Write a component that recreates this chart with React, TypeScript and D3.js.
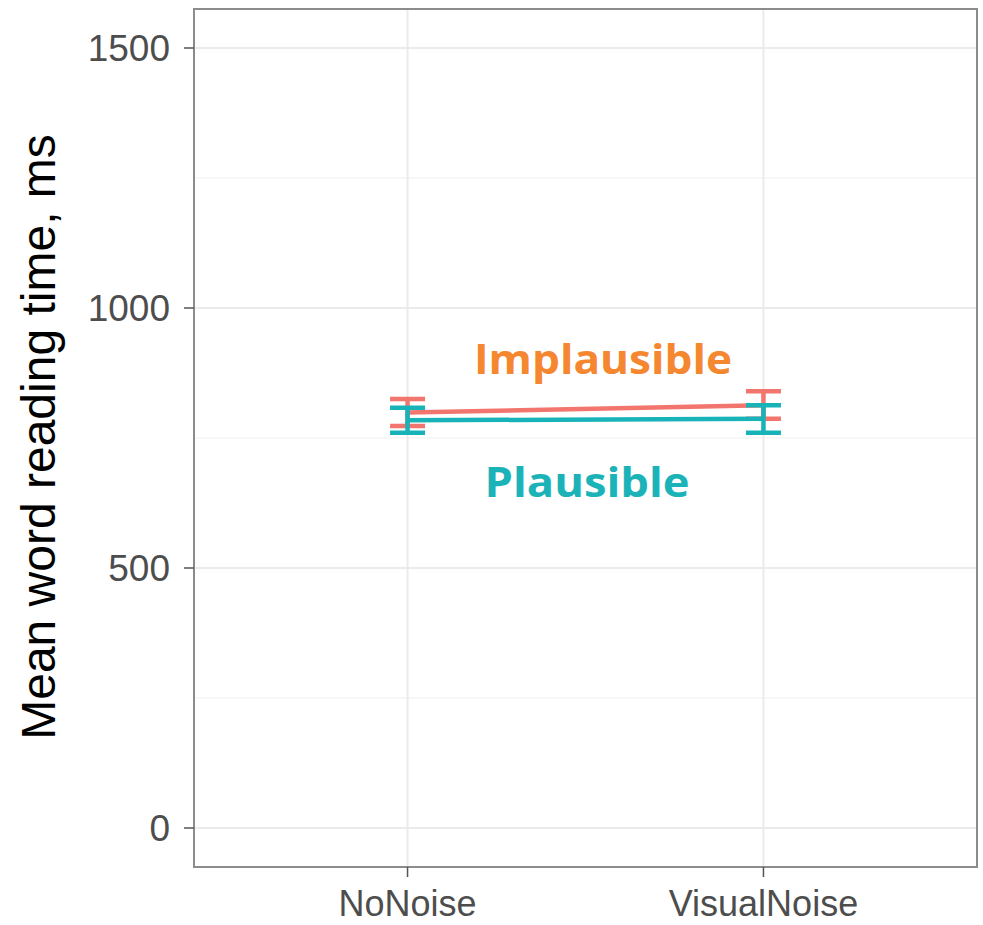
import React from "react";
import { scaleLinear, scalePoint, line } from "d3";

const conditions = ["NoNoise", "VisualNoise"];

const implausibleMean = [799, 813];
const implausibleLow = [773, 787];
const implausibleHigh = [825, 840];

const plausibleMean = [784, 787];
const plausibleLow = [760, 760];
const plausibleHigh = [808, 813];

const majorTicks = [0, 500, 1000, 1500];
const minorTicks = [250, 750, 1250];

const W = 983;
const H = 925;
const panel = { left: 194, right: 977, top: 9, bottom: 867 };

const red = "#F2766D";
const teal = "#17B3B8";

const x = scalePoint<string>()
  .domain(conditions)
  .range([panel.left, panel.right])
  .padding(0.6);

const y = scaleLinear().domain([-75, 1575]).range([panel.bottom, panel.top]);

const capHalf = 17.5;

function Series({ mean, low, high, color }: { mean: number[]; low: number[]; high: number[]; color: string }) {
  const path = line<number>()
    .x((_, i) => x(conditions[i]) as number)
    .y((d) => y(d));
  return (
    <g stroke={color} strokeWidth={4.5} fill="none">
      <path d={path(mean) || ""} />
      {conditions.map((c, i) => {
        const cx = x(c) as number;
        return (
          <g key={c}>
            <line x1={cx} x2={cx} y1={y(low[i])} y2={y(high[i])} />
            <line x1={cx - capHalf} x2={cx + capHalf} y1={y(low[i])} y2={y(low[i])} />
            <line x1={cx - capHalf} x2={cx + capHalf} y1={y(high[i])} y2={y(high[i])} />
          </g>
        );
      })}
    </g>
  );
}

export default function App() {
  return (
    <svg
      width={W}
      height={H}
      style={{ position: "absolute", left: 0, top: 0, background: "#fff" }}
      fontFamily="'Liberation Sans', Arial, sans-serif"
    >
      <rect x={0} y={0} width={W} height={H} fill="#fff" />
      {/* grid */}
      {minorTicks.map((t) => (
        <line key={"mi" + t} x1={panel.left} x2={panel.right} y1={y(t)} y2={y(t)} stroke="#F4F4F4" strokeWidth={1.5} />
      ))}
      {majorTicks.map((t) => (
        <line key={"ma" + t} x1={panel.left} x2={panel.right} y1={y(t)} y2={y(t)} stroke="#EBEBEB" strokeWidth={2} />
      ))}
      {conditions.map((c) => (
        <line key={"gx" + c} x1={x(c)} x2={x(c)} y1={panel.top} y2={panel.bottom} stroke="#EBEBEB" strokeWidth={2} />
      ))}

      <Series mean={implausibleMean} low={implausibleLow} high={implausibleHigh} color={red} />
      <Series mean={plausibleMean} low={plausibleLow} high={plausibleHigh} color={teal} />

      <text
        x={603}
        y={374}
        textAnchor="middle"
        fill="#F4872F"
        fontFamily="'Open Sans', sans-serif"
        fontWeight={700}
        fontSize={41}
        textLength={258}
        lengthAdjust="spacingAndGlyphs"
      >
        Implausible
      </text>
      <text
        x={587}
        y={497}
        textAnchor="middle"
        fill="#1BB3B8"
        fontFamily="'Open Sans', sans-serif"
        fontWeight={700}
        fontSize={41}
        textLength={205}
        lengthAdjust="spacingAndGlyphs"
      >
        Plausible
      </text>

      {/* panel border */}
      <rect
        x={panel.left}
        y={panel.top}
        width={panel.right - panel.left}
        height={panel.bottom - panel.top}
        fill="none"
        stroke="#8C8C8C"
        strokeWidth={2}
      />

      {/* y axis */}
      {majorTicks.map((t) => (
        <g key={"yt" + t}>
          <line x1={panel.left - 10} x2={panel.left} y1={y(t)} y2={y(t)} stroke="#555" strokeWidth={1.5} />
          <text x={170} y={y(t)} dy="0.36em" textAnchor="end" fontSize={37} fill="#4D4D4D">
            {t}
          </text>
        </g>
      ))}

      {/* x axis */}
      {conditions.map((c) => (
        <g key={"xt" + c}>
          <line x1={x(c)} x2={x(c)} y1={panel.bottom} y2={panel.bottom + 10} stroke="#555" strokeWidth={1.5} />
          <text x={x(c)} y={916} textAnchor="middle" fontSize={36} fill="#4D4D4D">
            {c}
          </text>
        </g>
      ))}

      <text
        transform={`translate(55, 437) rotate(-90)`}
        textAnchor="middle"
        fontSize={48}
        fill="#000"
      >
        Mean word reading time, ms
      </text>
    </svg>
  );
}
